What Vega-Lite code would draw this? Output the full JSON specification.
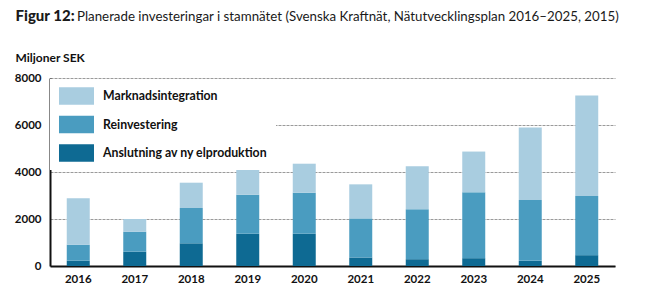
{
  "$schema": "https://vega.github.io/schema/vega-lite/v6.json",
  "width": 565,
  "height": 188,
  "autosize": {"type": "none"},
  "padding": {"left": 50, "top": 78, "right": 31, "bottom": 31},
  "background": "white",
  "title": {
    "text": "Planerade investeringar i stamnätet (Svenska Kraftnät, Nätutvecklingsplan 2016–2025, 2015)",
    "anchor": "start",
    "frame": "group",
    "dx": 27,
    "offset": -15,
    "font": "Lato",
    "fontSize": 13.3,
    "fontWeight": "normal",
    "color": "#1a1a1a"
  },
  "data": {
    "values": [
      {"ar": "2016", "kategori": "Anslutning av ny elproduktion", "mkr": 226},
      {"ar": "2016", "kategori": "Reinvestering", "mkr": 680},
      {"ar": "2016", "kategori": "Marknadsintegration", "mkr": 1974},
      {"ar": "2017", "kategori": "Anslutning av ny elproduktion", "mkr": 610},
      {"ar": "2017", "kategori": "Reinvestering", "mkr": 850},
      {"ar": "2017", "kategori": "Marknadsintegration", "mkr": 540},
      {"ar": "2018", "kategori": "Anslutning av ny elproduktion", "mkr": 966},
      {"ar": "2018", "kategori": "Reinvestering", "mkr": 1502},
      {"ar": "2018", "kategori": "Marknadsintegration", "mkr": 1077},
      {"ar": "2019", "kategori": "Anslutning av ny elproduktion", "mkr": 1374},
      {"ar": "2019", "kategori": "Reinvestering", "mkr": 1660},
      {"ar": "2019", "kategori": "Marknadsintegration", "mkr": 1106},
      {"ar": "2020", "kategori": "Anslutning av ny elproduktion", "mkr": 1374},
      {"ar": "2020", "kategori": "Reinvestering", "mkr": 1745},
      {"ar": "2020", "kategori": "Marknadsintegration", "mkr": 1234},
      {"ar": "2021", "kategori": "Anslutning av ny elproduktion", "mkr": 362},
      {"ar": "2021", "kategori": "Reinvestering", "mkr": 1663},
      {"ar": "2021", "kategori": "Marknadsintegration", "mkr": 1450},
      {"ar": "2022", "kategori": "Anslutning av ny elproduktion", "mkr": 290},
      {"ar": "2022", "kategori": "Reinvestering", "mkr": 2130},
      {"ar": "2022", "kategori": "Marknadsintegration", "mkr": 1823},
      {"ar": "2023", "kategori": "Anslutning av ny elproduktion", "mkr": 333},
      {"ar": "2023", "kategori": "Reinvestering", "mkr": 2801},
      {"ar": "2023", "kategori": "Marknadsintegration", "mkr": 1736},
      {"ar": "2024", "kategori": "Anslutning av ny elproduktion", "mkr": 220},
      {"ar": "2024", "kategori": "Reinvestering", "mkr": 2586},
      {"ar": "2024", "kategori": "Marknadsintegration", "mkr": 3087},
      {"ar": "2025", "kategori": "Anslutning av ny elproduktion", "mkr": 461},
      {"ar": "2025", "kategori": "Reinvestering", "mkr": 2516},
      {"ar": "2025", "kategori": "Marknadsintegration", "mkr": 4281}
    ]
  },
  "transform": [
    {
      "calculate": "indexof(['Anslutning av ny elproduktion', 'Reinvestering', 'Marknadsintegration'], datum.kategori)",
      "as": "lager"
    }
  ],
  "mark": {"type": "bar"},
  "encoding": {
    "x": {
      "field": "ar",
      "type": "ordinal",
      "scale": {"paddingInner": 0.593, "paddingOuter": 0.2965},
      "axis": {
        "title": "Figur 12:",
        "titleX": -35,
        "titleY": -246,
        "titleAlign": "left",
        "titleAnchor": null,
        "titleBaseline": "alphabetic",
        "titleFont": "Lato",
        "titleFontSize": 15,
        "titleFontWeight": 900,
        "titleColor": "#1a1a1a",
        "labelAngle": 0,
        "labelPadding": 7,
        "ticks": false,
        "domainColor": "#111111",
        "domainWidth": 2
      }
    },
    "y": {
      "field": "mkr",
      "type": "quantitative",
      "stack": "zero",
      "scale": {"domain": [0, 8000], "nice": false},
      "axis": {
        "title": "Miljoner SEK",
        "titleAngle": 0,
        "titleX": -35,
        "titleY": -21,
        "titleAlign": "left",
        "titleBaseline": "middle",
        "titleAnchor": null,
        "titleFontSize": 12,
        "values": [0, 2000, 4000, 6000, 8000],
        "format": "d",
        "ticks": false,
        "labelPadding": 9,
        "domainColor": "#111111",
        "domainWidth": 2,
        "grid": true,
        "gridColor": "#9a9a9a",
        "gridDash": [3, 1],
        "gridWidth": 1
      }
    },
    "order": {"field": "lager", "type": "quantitative", "sort": "ascending"},
    "color": {
      "field": "kategori",
      "type": "nominal",
      "scale": {
        "domain": ["Marknadsintegration", "Reinvestering", "Anslutning av ny elproduktion"],
        "range": ["#a9cde0", "#4a9cc0", "#0e6a93"]
      },
      "legend": {
        "title": null,
        "orient": "none",
        "legendX": 0,
        "legendY": 1,
        "padding": 8,
        "fillColor": "white",
        "symbolType": "M-0.889,-0.972H3V0.972H-0.889Z",
        "symbolSize": 324,
        "symbolStrokeWidth": 0,
        "symbolOpacity": 1,
        "rowPadding": 10.5,
        "labelOffset": 27,
        "labelLimit": 260,
        "labelFont": "Lato",
        "labelFontSize": 12.3,
        "labelFontWeight": "bold",
        "labelColor": "#111111"
      }
    }
  },
  "config": {
    "view": {"stroke": null},
    "font": "Lato",
    "axis": {
      "labelFont": "Lato",
      "labelFontSize": 11.5,
      "labelFontWeight": "bold",
      "labelColor": "#111111",
      "titleFont": "Lato",
      "titleFontSize": 11,
      "titleFontWeight": "bold",
      "titleColor": "#111111"
    }
  }
}
